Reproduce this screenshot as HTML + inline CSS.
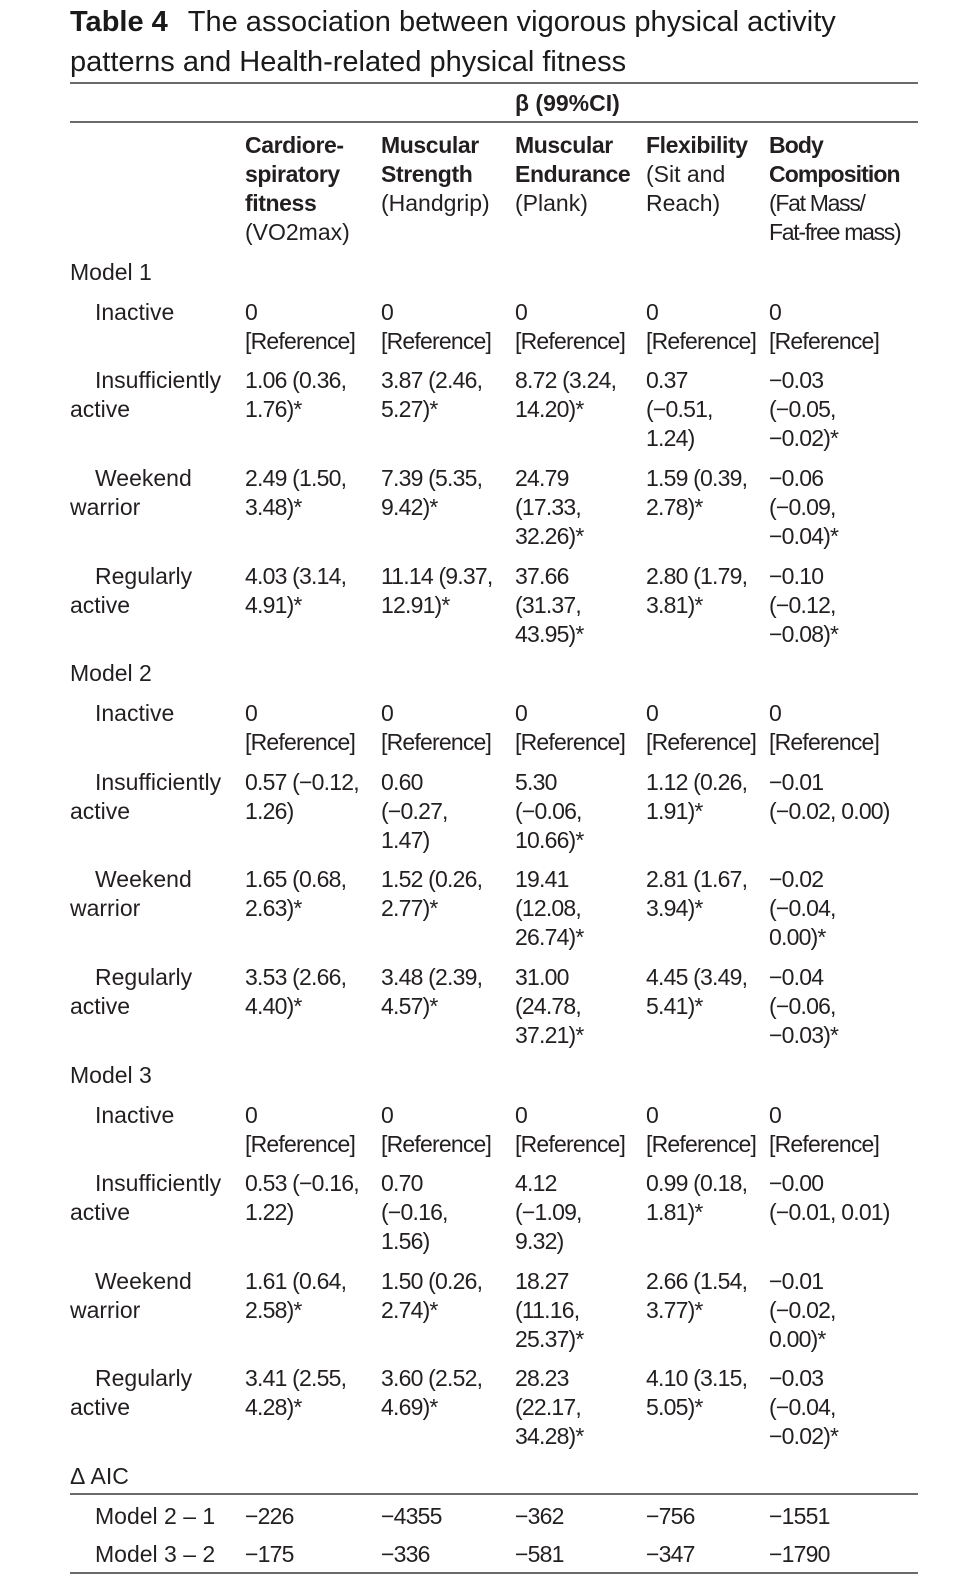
<!DOCTYPE html>
<html>
<head>
<meta charset="utf-8">
<style>
  html,body{margin:0;padding:0;background:#fff;}
  body{width:964px;height:1577px;position:relative;overflow:hidden;
       font-family:"Liberation Sans",Arial,sans-serif;color:#231f20;}
  .title{position:absolute;left:70px;top:2px;font-size:29px;line-height:40px;white-space:nowrap;color:#1a1a1a;}
  .title b{margin-right:20px;}
  .hl{position:absolute;left:70px;width:848px;height:2px;background:#6a6a6a;}
  .r{position:absolute;left:0;width:964px;height:1px;}
  .c{position:absolute;top:0;white-space:nowrap;font-size:23px;line-height:29px;}
  .d{letter-spacing:-0.8px;}
  .h b{letter-spacing:-0.4px;}
  .h .c5 b{letter-spacing:-0.9px;}
  .h .c5{letter-spacing:-1.3px;}
  .l{left:70px;}
  .li{left:70px;text-indent:25px;}
  .c1{left:245px;}
  .c2{left:381px;}
  .c3{left:515px;}
  .c4{left:646px;}
  .c5{left:769px;}
</style>
</head>
<body>
<div class="title"><b>Table 4</b>The association between vigorous physical activity<br>patterns and Health-related physical fitness</div>

<div class="hl" style="top:82px"></div>
<div class="r" style="top:89px"><div class="c c3"><b>β (99%CI)</b></div></div>
<div class="hl" style="top:121px"></div>

<div class="r h" style="top:131px">
  <div class="c c1"><b>Cardiore-<br>spiratory<br>fitness</b><br>(VO2max)</div>
  <div class="c c2"><b>Muscular<br>Strength</b><br>(Handgrip)</div>
  <div class="c c3"><b>Muscular<br>Endurance</b><br>(Plank)</div>
  <div class="c c4"><b>Flexibility</b><br>(Sit and<br>Reach)</div>
  <div class="c c5"><b>Body<br>Composition</b><br>(Fat Mass/<br>Fat-free mass)</div>
</div>

<!-- Model 1 -->
<div class="r" style="top:258px"><div class="c l">Model 1</div></div>
<div class="r" style="top:298px">
  <div class="c li">Inactive</div>
  <div class="c c1 d">0<br>[Reference]</div>
  <div class="c c2 d">0<br>[Reference]</div>
  <div class="c c3 d">0<br>[Reference]</div>
  <div class="c c4 d">0<br>[Reference]</div>
  <div class="c c5 d">0<br>[Reference]</div>
</div>
<div class="r" style="top:366px">
  <div class="c li">Insufficiently<br>active</div>
  <div class="c c1 d">1.06 (0.36,<br>1.76)*</div>
  <div class="c c2 d">3.87 (2.46,<br>5.27)*</div>
  <div class="c c3 d">8.72 (3.24,<br>14.20)*</div>
  <div class="c c4 d">0.37<br>(−0.51,<br>1.24)</div>
  <div class="c c5 d">−0.03<br>(−0.05,<br>−0.02)*</div>
</div>
<div class="r" style="top:464px">
  <div class="c li">Weekend<br>warrior</div>
  <div class="c c1 d">2.49 (1.50,<br>3.48)*</div>
  <div class="c c2 d">7.39 (5.35,<br>9.42)*</div>
  <div class="c c3 d">24.79<br>(17.33,<br>32.26)*</div>
  <div class="c c4 d">1.59 (0.39,<br>2.78)*</div>
  <div class="c c5 d">−0.06<br>(−0.09,<br>−0.04)*</div>
</div>
<div class="r" style="top:562px">
  <div class="c li">Regularly<br>active</div>
  <div class="c c1 d">4.03 (3.14,<br>4.91)*</div>
  <div class="c c2 d">11.14 (9.37,<br>12.91)*</div>
  <div class="c c3 d">37.66<br>(31.37,<br>43.95)*</div>
  <div class="c c4 d">2.80 (1.79,<br>3.81)*</div>
  <div class="c c5 d">−0.10<br>(−0.12,<br>−0.08)*</div>
</div>

<!-- Model 2 -->
<div class="r" style="top:659px"><div class="c l">Model 2</div></div>
<div class="r" style="top:699px">
  <div class="c li">Inactive</div>
  <div class="c c1 d">0<br>[Reference]</div>
  <div class="c c2 d">0<br>[Reference]</div>
  <div class="c c3 d">0<br>[Reference]</div>
  <div class="c c4 d">0<br>[Reference]</div>
  <div class="c c5 d">0<br>[Reference]</div>
</div>
<div class="r" style="top:768px">
  <div class="c li">Insufficiently<br>active</div>
  <div class="c c1 d">0.57 (−0.12,<br>1.26)</div>
  <div class="c c2 d">0.60<br>(−0.27,<br>1.47)</div>
  <div class="c c3 d">5.30<br>(−0.06,<br>10.66)*</div>
  <div class="c c4 d">1.12 (0.26,<br>1.91)*</div>
  <div class="c c5 d">−0.01<br>(−0.02, 0.00)</div>
</div>
<div class="r" style="top:865px">
  <div class="c li">Weekend<br>warrior</div>
  <div class="c c1 d">1.65 (0.68,<br>2.63)*</div>
  <div class="c c2 d">1.52 (0.26,<br>2.77)*</div>
  <div class="c c3 d">19.41<br>(12.08,<br>26.74)*</div>
  <div class="c c4 d">2.81 (1.67,<br>3.94)*</div>
  <div class="c c5 d">−0.02<br>(−0.04,<br>0.00)*</div>
</div>
<div class="r" style="top:963px">
  <div class="c li">Regularly<br>active</div>
  <div class="c c1 d">3.53 (2.66,<br>4.40)*</div>
  <div class="c c2 d">3.48 (2.39,<br>4.57)*</div>
  <div class="c c3 d">31.00<br>(24.78,<br>37.21)*</div>
  <div class="c c4 d">4.45 (3.49,<br>5.41)*</div>
  <div class="c c5 d">−0.04<br>(−0.06,<br>−0.03)*</div>
</div>

<!-- Model 3 -->
<div class="r" style="top:1061px"><div class="c l">Model 3</div></div>
<div class="r" style="top:1101px">
  <div class="c li">Inactive</div>
  <div class="c c1 d">0<br>[Reference]</div>
  <div class="c c2 d">0<br>[Reference]</div>
  <div class="c c3 d">0<br>[Reference]</div>
  <div class="c c4 d">0<br>[Reference]</div>
  <div class="c c5 d">0<br>[Reference]</div>
</div>
<div class="r" style="top:1169px">
  <div class="c li">Insufficiently<br>active</div>
  <div class="c c1 d">0.53 (−0.16,<br>1.22)</div>
  <div class="c c2 d">0.70<br>(−0.16,<br>1.56)</div>
  <div class="c c3 d">4.12<br>(−1.09,<br>9.32)</div>
  <div class="c c4 d">0.99 (0.18,<br>1.81)*</div>
  <div class="c c5 d">−0.00<br>(−0.01, 0.01)</div>
</div>
<div class="r" style="top:1267px">
  <div class="c li">Weekend<br>warrior</div>
  <div class="c c1 d">1.61 (0.64,<br>2.58)*</div>
  <div class="c c2 d">1.50 (0.26,<br>2.74)*</div>
  <div class="c c3 d">18.27<br>(11.16,<br>25.37)*</div>
  <div class="c c4 d">2.66 (1.54,<br>3.77)*</div>
  <div class="c c5 d">−0.01<br>(−0.02,<br>0.00)*</div>
</div>
<div class="r" style="top:1364px">
  <div class="c li">Regularly<br>active</div>
  <div class="c c1 d">3.41 (2.55,<br>4.28)*</div>
  <div class="c c2 d">3.60 (2.52,<br>4.69)*</div>
  <div class="c c3 d">28.23<br>(22.17,<br>34.28)*</div>
  <div class="c c4 d">4.10 (3.15,<br>5.05)*</div>
  <div class="c c5 d">−0.03<br>(−0.04,<br>−0.02)*</div>
</div>

<!-- AIC -->
<div class="r" style="top:1462px"><div class="c l">Δ AIC</div></div>
<div class="hl" style="top:1493px"></div>
<div class="r" style="top:1502px">
  <div class="c li">Model 2 – 1</div>
  <div class="c c1 d">−226</div>
  <div class="c c2 d">−4355</div>
  <div class="c c3 d">−362</div>
  <div class="c c4 d">−756</div>
  <div class="c c5 d">−1551</div>
</div>
<div class="r" style="top:1540px">
  <div class="c li">Model 3 – 2</div>
  <div class="c c1 d">−175</div>
  <div class="c c2 d">−336</div>
  <div class="c c3 d">−581</div>
  <div class="c c4 d">−347</div>
  <div class="c c5 d">−1790</div>
</div>
<div class="hl" style="top:1572px"></div>
</body>
</html>
